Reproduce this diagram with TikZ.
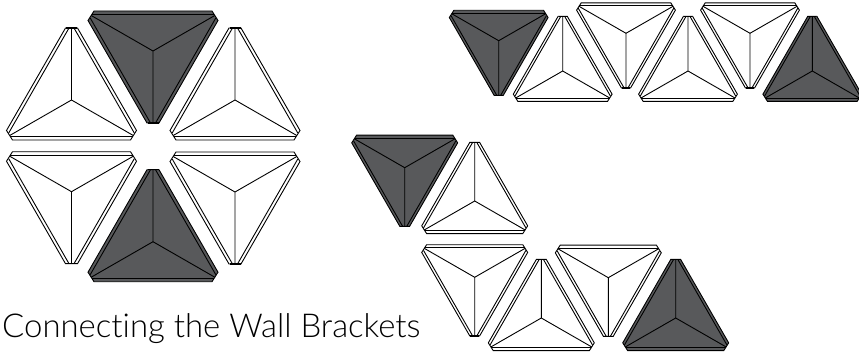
\documentclass[tikz,border=0pt]{standalone}
\usepackage{xcolor}
\usepackage{fontspec}
\setmainfont{Lato}[UprightFont=* Light,Ligatures=NoCommon]
\definecolor{koyuGri}{HTML}{58595B}
\tikzset{
  kenar/.style={draw=black,line width=0.9pt,line join=miter},
  bracket/.pic={
    % dis kontur
    \path[kenar,fill=#1] (-6,72)--(6,72)--(65,-30.5)--(59,-40)--(-59,-40)--(-65,-30.5)--cycle;
    % ic kenarlar
    \path[kenar] (-2.5,72)--(-62.8,-33) (2.5,72)--(62.8,-33);
    \path[kenar] (-61.2,-36.5)--(61.2,-36.5);
    % kollar
    \path[kenar] (0,0)--(0,72) (0,0)--(-61.8,-35.5) (0,0)--(61.8,-35.5);
    % uc kalin
    \draw[black,line width=1.5pt] (-5.5,72)--(5.5,72);
  }
}
\begin{document}
\begin{tikzpicture}[x=1pt,y=1pt]
\useasboundingbox (0,0) rectangle (859,354);
% altigen
\foreach \px/\py/\yon/\dolgu in {71.5/254/1/white,153/303/-1/koyuGri,235/254/1/white,71.5/162.3/-1/white,153/112.3/1/koyuGri,235/162/-1/white}
  \pic[yscale=\yon] at (\px,\py) {bracket=\dolgu};
% sag ust sira
\foreach \px/\py/\yon/\dolgu in {498.7/313.3/-1/koyuGri,562.7/283/1/white,626/320.7/-1/white,688/283/1/white,750/320.7/-1/white,812.3/283/1/koyuGri}
  \pic[scale=0.76,yscale=\yon] at (\px,\py) {bracket=\dolgu};
% sag alt grup
\foreach \px/\py/\yon/\dolgu in {404.7/186.3/-1/koyuGri,474.7/153/1/white,474.7/76.7/-1/white,541.3/36/1/white,608.3/76.3/-1/white,675.7/36/1/koyuGri}
  \pic[scale=0.815,yscale=\yon] at (\px,\py) {bracket=\dolgu};
\node[anchor=base west,inner sep=0pt,font=\fontsize{32.9}{36}\selectfont] (baslik) at (2,16.7) {Connecting the Wall Brackets};
\end{tikzpicture}
\end{document}
